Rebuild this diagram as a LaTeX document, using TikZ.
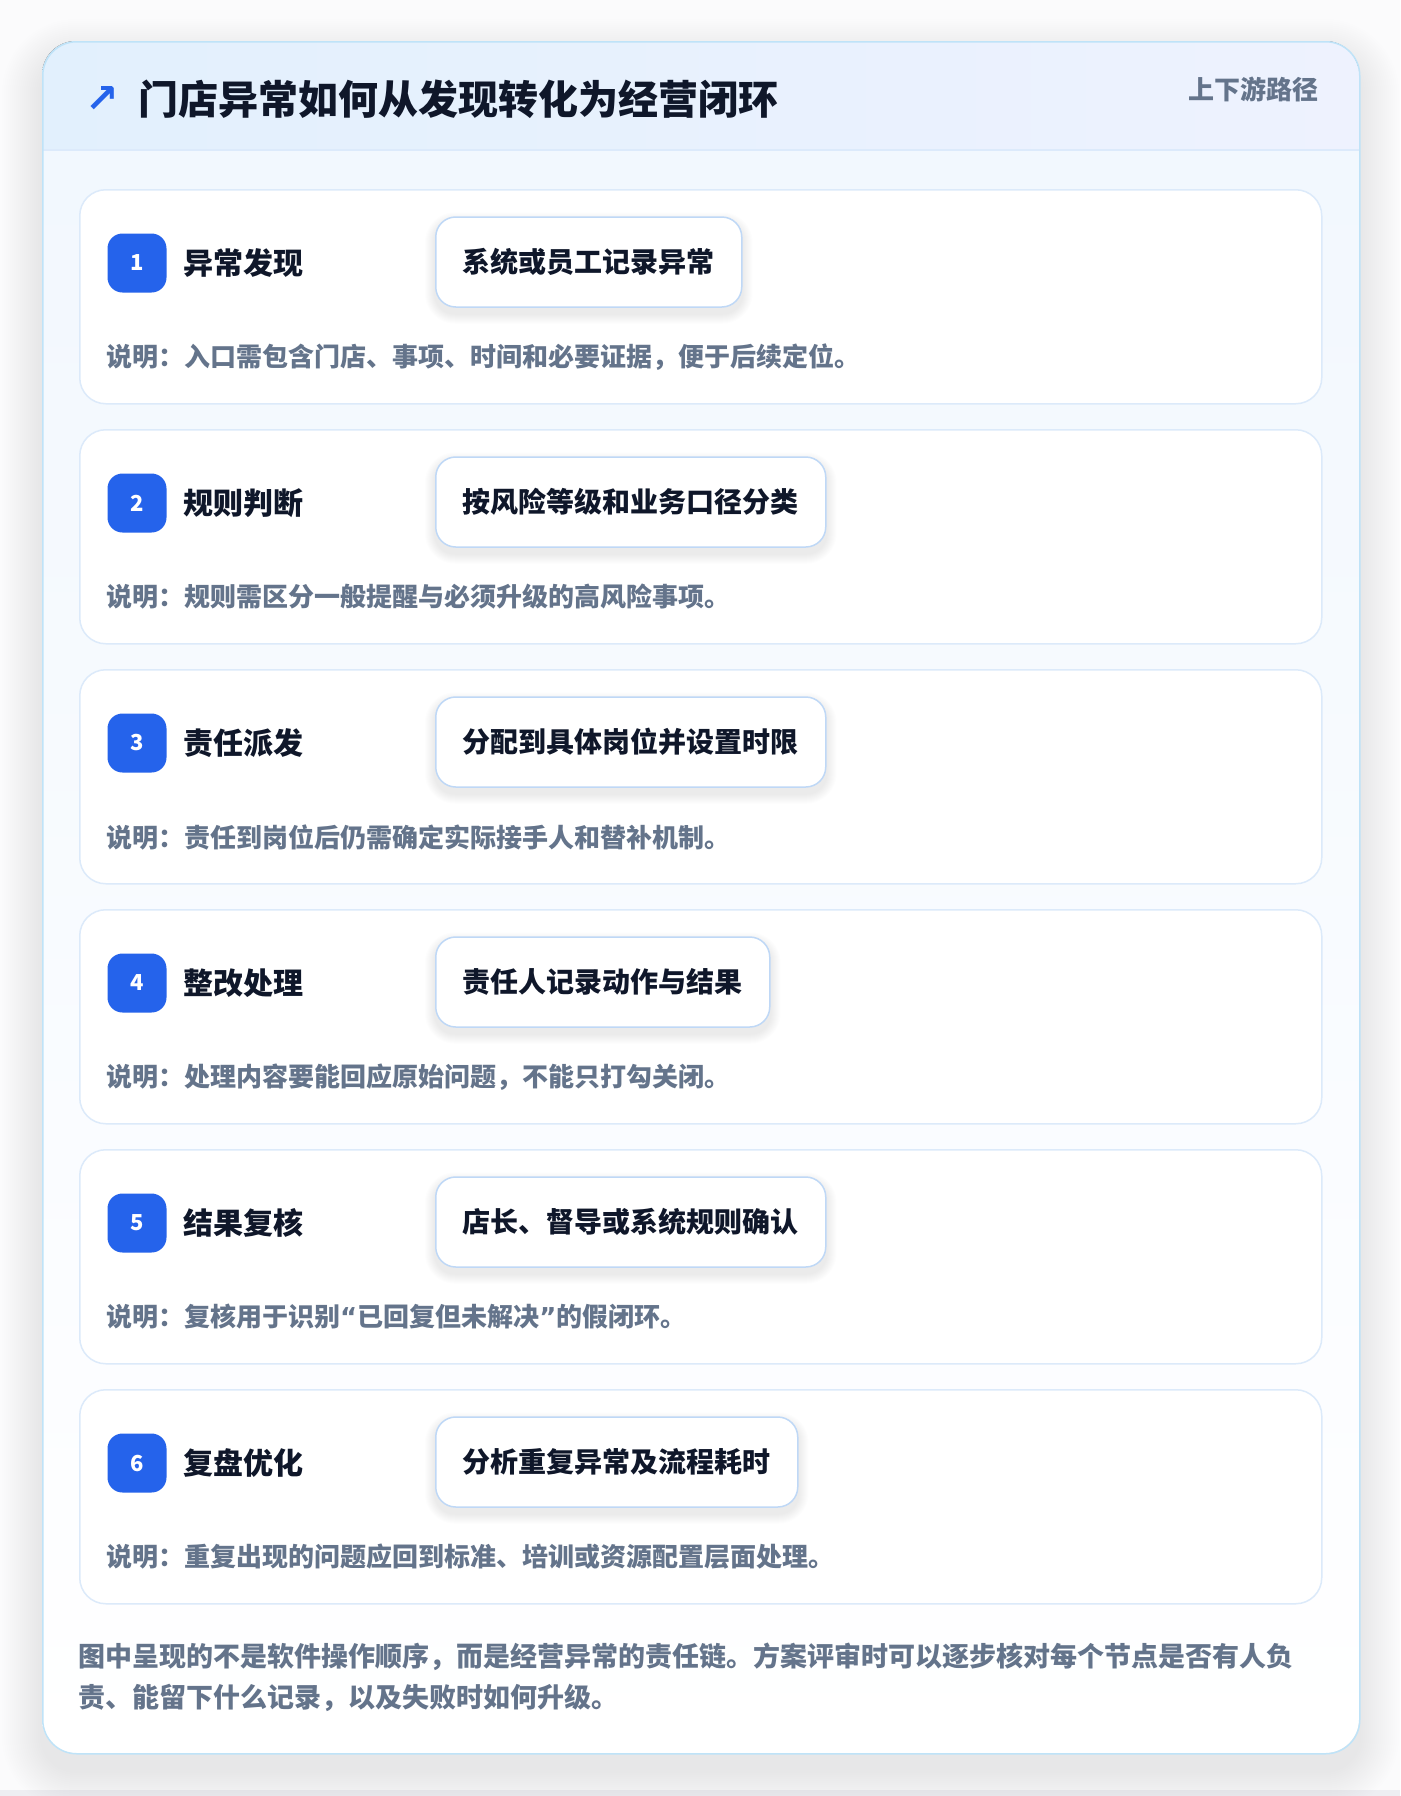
\documentclass[tikz,border=0pt]{standalone}
\usepackage{fontspec}
\setmainfont{Noto Sans CJK SC}
\newfontfamily\symf{DejaVu Sans}
\definecolor{pagebg}{HTML}{FBFBFC}
\definecolor{stripc}{HTML}{EEEEF2}
\definecolor{bodytop}{HTML}{F1F7FE}
\definecolor{hdrL}{HTML}{E2F0FD}
\definecolor{hdrR}{HTML}{EEF2FE}
\definecolor{hdrline}{HTML}{DCEAFB}
\definecolor{outerb}{HTML}{BFE3F8}
\definecolor{cardb}{HTML}{DCEAFA}
\definecolor{pillb}{HTML}{BFD8F6}
\definecolor{badgec}{HTML}{2563EB}
\definecolor{darkt}{HTML}{0F172A}
\definecolor{grayt}{HTML}{64748B}
\definecolor{shadc}{HTML}{1E293B}
\newcommand{\q}[1]{{\symf\bfseries #1}}
\tikzset{
  stepcard/.style={draw=cardb, line width=1.5pt, fill=white, rounded corners=26pt,
    minimum width=1242pt, minimum height=214pt, anchor=north west, inner sep=0pt},
  badge/.style={fill=badgec, rounded corners=15pt, minimum size=59pt, inner sep=0pt,
    text=white, font=\fontsize{22}{26}\selectfont\bfseries},
  steptitle/.style={anchor=west, inner sep=0pt, text=darkt, font=\fontsize{30}{35}\selectfont\bfseries},
  pill/.style={draw=pillb, line width=1.5pt, fill=white, rounded corners=20pt, anchor=west,
    minimum height=90pt, inner xsep=27pt, inner ysep=0pt, text=darkt,
    font=\fontsize{28}{33}\selectfont\bfseries},
  note/.style={anchor=west, inner sep=0pt, text=grayt, font=\fontsize{26}{31}\selectfont\bfseries},
}
\begin{document}
\begin{tikzpicture}[x=1pt,y=-1pt]
\useasboundingbox (0,0) rectangle (1400,1796);
\fill[pagebg] (0,0) rectangle (1400,1796);
\fill[stripc] (0,1790) rectangle (1400,1796);
% outer card shadow
\foreach \r in {2,4,...,40}{
  \fill[shadc, opacity=0.005, rounded corners={34pt+\r pt}]
    (42-\r,41-\r+18) rectangle (1359+\r,1753+\r+18);
}
% outer card
\path[top color=bodytop, bottom color=white, rounded corners=34pt] (42,41) rectangle (1359,1753);
\begin{scope}
\clip[rounded corners=34pt] (42,41) rectangle (1359,1753);
\fill[left color=hdrL, right color=hdrR] (42,41) rectangle (1359,150);
\end{scope}
\draw[hdrline, line width=1.5pt] (42,150) -- (1359,150);
\node[draw=outerb, line width=1.5pt, rounded corners=34pt, minimum width=1317pt, minimum height=1712pt,
  anchor=north west, inner sep=0pt] (card) at (42,41) {};
% header
\node[anchor=center, inner sep=0pt, text=badgec, font=\fontsize{40}{44}\selectfont\symf\bfseries] (icon) at (102,100) {↗};
\node[anchor=west, inner sep=0pt, text=darkt, font=\fontsize{40}{47}\selectfont\bfseries] (title) at (138,99)
  {门店异常如何从发现转化为经营闭环};
\node[anchor=east, inner sep=0pt, text=grayt, font=\fontsize{26}{31}\selectfont\bfseries] (tag) at (1319,89)
  {上下游路径};
% steps
\foreach \i/\t/\h/\p/\n in {
  1/189/异常发现/系统或员工记录异常/入口需包含门店、事项、时间和必要证据，便于后续定位。,
  2/429/规则判断/按风险等级和业务口径分类/规则需区分一般提醒与必须升级的高风险事项。,
  3/669/责任派发/分配到具体岗位并设置时限/责任到岗位后仍需确定实际接手人和替补机制。,
  4/909/整改处理/责任人记录动作与结果/处理内容要能回应原始问题，不能只打勾关闭。,
  5/1149/结果复核/店长、督导或系统规则确认/复核用于识别\q{“}已回复但未解决\q{”}的假闭环。,
  6/1389/复盘优化/分析重复异常及流程耗时/重复出现的问题应回到标准、培训或资源配置层面处理。}{
  \node[stepcard] (c\i) at (79,\t) {};
  \node[badge] (b\i) at (137,\t+74) {\i};
  \node[steptitle] (h\i) at (183,\t+74) {\h};
  \path node[pill, draw=none, fill=none, text opacity=0] (ps\i) at (435,\t+73) {\p};
  \foreach \s in {1,2,...,10}{
    \fill[shadc, opacity=0.006, rounded corners={20pt+\s pt}]
      ([xshift=-\s pt, yshift={-6pt+\s pt}]ps\i.north west) rectangle ([xshift=\s pt, yshift={-6pt-\s pt}]ps\i.south east);
  }
  \node[pill] (p\i) at (435,\t+73) {\p};
  \node[note] (n\i) at (106,\t+168) {说明：\n};
}
% footer
\node[anchor=north west, inner sep=0pt, align=left, text=grayt,
  font=\fontsize{27}{41}\selectfont\bfseries] (foot) at (78,1643)
  {图中呈现的不是软件操作顺序，而是经营异常的责任链。方案评审时可以逐步核对每个节点是否有人负\\责、能留下什么记录，以及失败时如何升级。};
\end{tikzpicture}
\end{document}
